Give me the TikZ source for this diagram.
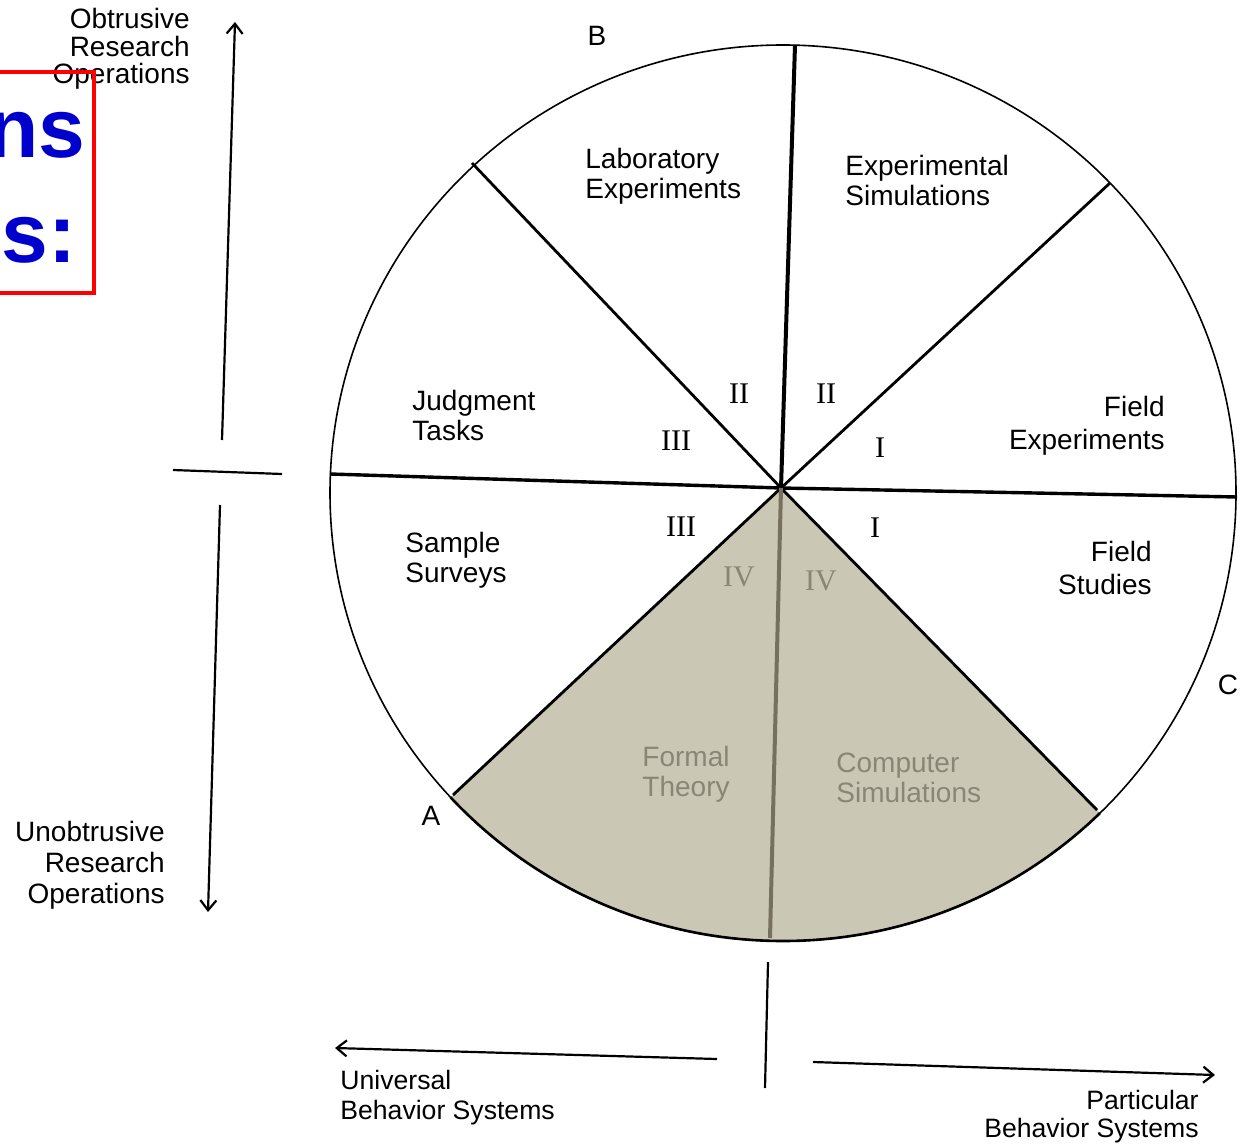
\documentclass[tikz,border=0pt]{standalone}
\usepackage{fontspec}
\setmainfont{Liberation Serif}
\setsansfont{Liberation Sans}
\usetikzlibrary{arrows.meta,calc}
\definecolor{sectorfill}{HTML}{CBC7B5}
\definecolor{sectorink}{HTML}{8A8676}
\definecolor{spokegray}{HTML}{76705F}
\definecolor{titleblue}{HTML}{0000CC}
\begin{document}
\begin{tikzpicture}[x=0.5pt,y=-0.5pt,
  lbl/.style={font=\sffamily\fontsize{14}{15}\selectfont, inner sep=0pt},
  lblsmall/.style={font=\sffamily\fontsize{13.3}{15}\selectfont, inner sep=0pt},
  num/.style={font=\rmfamily\fontsize{15}{16}\selectfont, inner sep=0pt},
  grayink/.style={text=sectorink},
  spoke/.style={line width=1.4pt},
  axis/.style={line width=1.1pt},
  axisarrow/.style={line width=1.1pt, -{Straight Barb[length=5pt,width=8pt,line width=1.1pt]}},
  tag/.style={font=\sffamily\fontsize{14}{15}\selectfont, inner sep=0pt},
  bigword/.style={font=\sffamily\bfseries\fontsize{42}{42}\selectfont, text=titleblue, inner sep=0pt, anchor=base east}]

\useasboundingbox (0,0) rectangle (1240,1144);
\fill[white] (0,0) rectangle (1240,1144);

% wheel geometry
\coordinate (ctr) at (783,493);
\coordinate (hub) at (781,488);
\coordinate (pB)  at (795,45);
\coordinate (pUL) at (472,163);
\coordinate (pL)  at (330,474);
\coordinate (pA)  at (453,795);
\coordinate (pD)  at (770,938);
\coordinate (pLR) at (1097,810);
\coordinate (pR)  at (1237,497);
\coordinate (pUR) at (1110,183);

% shaded sector IV
\begin{scope}
  \clip (hub) -- ($(hub)!1.4!(pA)$) -- (400,1100) -- (1150,1100) -- ($(hub)!1.4!(pLR)$) -- cycle;
  \fill[sectorfill] (ctr) ellipse [x radius=226.5pt, y radius=224pt];
  \draw[line width=1.3pt] (ctr) ellipse [x radius=226.5pt, y radius=224pt];
\end{scope}

% outline of the wheel
\draw[line width=0.8pt] (ctr) ellipse [x radius=226.5pt, y radius=224pt];

% spokes
\draw[line width=2pt] (hub) -- (pB);
\draw[line width=1.7pt] (pL) -- (hub) -- (pR);
\draw[spoke] (hub) -- (pUL);
\draw[spoke] (hub) -- (pUR);
\draw[spoke] (hub) -- (pA);
\draw[spoke] (hub) -- (pLR);
\draw[line width=2pt, spokegray] (hub) -- (pD);

% corner letters
\node[tag] (labB) at (597,36) {B};
\node[tag] (labA) at (431,816) {A};
\node[tag] (labC) at (1228,685) {C};

% sector names (anchored at the baseline of their last line)
\node[lbl, anchor=base west, align=left] (lab) at (585,199) {Laboratory\\Experiments};
\node[lbl, anchor=base west, align=left] (expsim) at (845,206) {Experimental\\Simulations};
\node[lbl, anchor=base west, align=left] (judg) at (412,440) {Judgment\\Tasks};
\node[lbl, anchor=base east, align=right, font=\sffamily\fontsize{14}{16.5}\selectfont] (fexp) at (1165,449) {Field\\Experiments};
\node[lbl, anchor=base west, align=left] (surv) at (405,582) {Sample\\Surveys};
\node[lbl, anchor=base east, align=right, font=\sffamily\fontsize{14}{16.5}\selectfont] (fstud) at (1152,594) {Field\\Studies};
\node[lbl, grayink, anchor=base, align=center] (formal) at (686,796) {Formal\\Theory};
\node[lbl, grayink, anchor=base west, align=left] (compsim) at (836,802) {Computer\\Simulations};

% quadrant numerals
\node[num] (n1) at (739,394) {II};
\node[num] (n2) at (826,394) {II};
\node[num] (n3) at (676,441) {III};
\node[num] (n4) at (880,448) {I};
\node[num] (n5) at (681,527) {III};
\node[num] (n6) at (875,528) {I};
\node[num, grayink] (n7) at (739,577) {IV};
\node[num, grayink] (n8) at (821,581) {IV};

% vertical axis: obtrusive / unobtrusive
\coordinate (vtopS) at (222,440);
\coordinate (vtopE) at (235,22);
\coordinate (vbotS) at (220,505);
\coordinate (vbotE) at (208,912);
\coordinate (vtickL) at (173,470);
\coordinate (vtickR) at (282,474);
\draw[axisarrow] (vtopS) -- (vtopE);
\draw[axisarrow] (vbotS) -- (vbotE);
\draw[axis] (vtickL) -- (vtickR);
\node[lbl, anchor=base east, align=right, font=\sffamily\fontsize{14}{13.8}\selectfont] (obtr) at (190,84) {Obtrusive\\Research\\Operations};
\node[lbl, anchor=base east, align=right, font=\sffamily\fontsize{14}{15.5}\selectfont] (unobtr) at (165,903) {Unobtrusive\\Research\\Operations};

% horizontal axis: universal / particular
\coordinate (htickT) at (768,962);
\coordinate (htickB) at (765,1088);
\coordinate (hleftS) at (717,1059);
\coordinate (hleftE) at (335,1048);
\coordinate (hrightS) at (813,1062);
\coordinate (hrightE) at (1215,1075);
\draw[axis] (htickT) -- (htickB);
\draw[axisarrow] (hleftS) -- (hleftE);
\draw[axisarrow] (hrightS) -- (hrightE);
\node[lblsmall, anchor=base west, align=left] (univ) at (340,1119) {Universal\\Behavior Systems};
\node[lblsmall, anchor=base east, align=right, font=\sffamily\fontsize{13.3}{13.6}\selectfont] (part) at (1199,1137) {Particular\\Behavior Systems};

% red framed heading fragment
\draw[red, line width=2pt] (-20,72) rectangle (94,293);
\node[bigword] (w1) at (86,158) {ns};
\node[bigword] (w2) at (77,263) {s:};

\end{tikzpicture}
\end{document}
